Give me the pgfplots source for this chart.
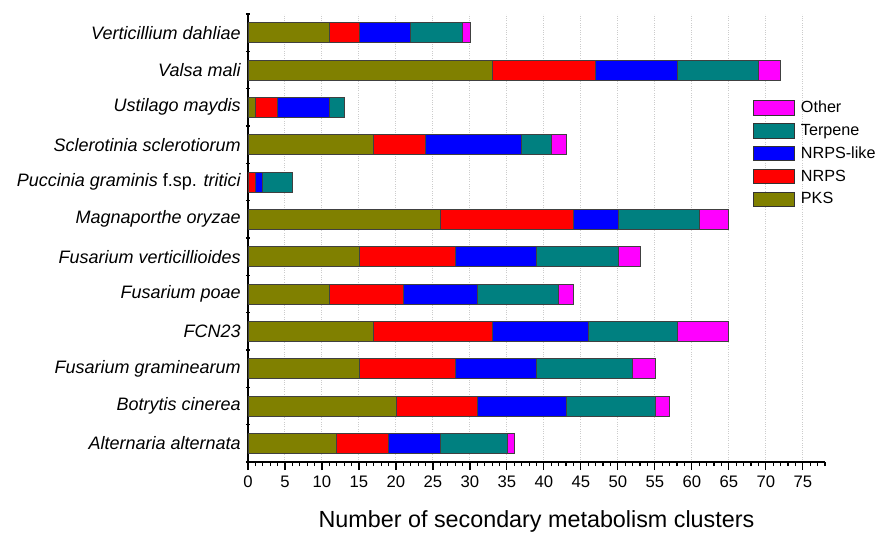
\documentclass[border=0pt]{standalone}
\usepackage{fontspec}
\setmainfont{Liberation Sans}
\usepackage{pgfplots}
\usepackage{pgfplotstable}
\pgfplotsset{compat=1.18}
\definecolor{cPKS}{RGB}{128,128,0}
\definecolor{cNRPS}{RGB}{255,0,0}
\definecolor{cNRPSlike}{RGB}{0,0,255}
\definecolor{cTerp}{RGB}{0,128,128}
\definecolor{cOther}{RGB}{255,0,255}
\pgfplotstableread{
y PKS NRPS NRPSlike Terpene Other
12 11 4 7 7 1
11 33 14 11 11 3
10 1 3 7 2 0
9 17 7 13 4 2
8 0 1 1 4 0
7 26 18 6 11 4
6 15 13 11 11 3
5 11 10 10 11 2
4 17 16 13 12 7
3 15 13 11 13 3
2 20 11 12 12 2
1 12 7 7 9 1
}\datatable
\begin{document}
\begin{tikzpicture}
\useasboundingbox (0,0) rectangle (525pt,319.8pt);
\begin{axis}[
  at={(148.8pt,42.6pt)}, anchor=south west,
  scale only axis, width=346.2pt, height=268.8pt,
  xbar stacked, bar width=11.9pt,
  xmin=0, xmax=78, ymin=0.5, ymax=12.5,
  axis x line*=bottom, axis y line*=left,
  axis line style={line width=0.8pt, black, -},
  xtick={0,5,...,75}, minor xtick={0,1,...,78},
  xtick align=outside, ytick align=center,
  major tick length=4.8pt, minor tick length=2.4pt,
  tick style={line width=0.7pt, black},
  ytick={1,...,12},
  minor ytick={0.5,1.5,...,12.5},
  every major y tick/.style={draw=none},
  yticklabels={Alternaria alternata, Botrytis cinerea, Fusarium graminearum, FCN23, Fusarium poae, Fusarium verticillioides, Magnaporthe oryzae, {Puccinia graminis {\upshape f.sp.} tritici}, Sclerotinia sclerotiorum, Ustilago maydis, Valsa mali, Verticillium dahliae},
  yticklabel style={font=\fontsize{10.8}{12}\selectfont\itshape, xshift=1.5pt},
  xticklabel style={font=\fontsize{10}{12}\selectfont},
  /pgf/number format/assume math mode=true,
  xmajorgrids, major x grid style={densely dotted, black!20, line width=0.6pt},
  xlabel={Number of secondary metabolism clusters},
  xlabel style={font=\fontsize{14}{16}\selectfont, at={(axis description cs:0.5,0)}, anchor=center, yshift=-35.5pt},
  every axis plot/.append style={draw=black!75, line width=0.4pt},
  reverse legend,
  legend cell align=left,
  legend style={at={(axis description cs:0.874,0.808)}, anchor=north west, draw=none, fill=none, inner sep=0pt,
    font=\fontsize{9.7}{12}\selectfont, row sep=4.5pt,
    nodes={inner sep=0pt, text height=7.2pt, text depth=1.8pt},
    /tikz/every odd column/.append style={column sep=3.4pt}},
  legend image code/.code={\draw[#1, draw=black!80, line width=0.6pt] (0pt,-4.3pt) rectangle (25pt,4.3pt);},
]
\addplot[fill=cPKS] table[x=PKS, y=y] {\datatable};
\addplot[fill=cNRPS] table[x=NRPS, y=y] {\datatable};
\addplot[fill=cNRPSlike] table[x=NRPSlike, y=y] {\datatable};
\addplot[fill=cTerp] table[x=Terpene, y=y] {\datatable};
\addplot[fill=cOther] table[x=Other, y=y] {\datatable};
\legend{PKS, NRPS, NRPS-like, Terpene, Other}
\end{axis}
\end{tikzpicture}
\end{document}
